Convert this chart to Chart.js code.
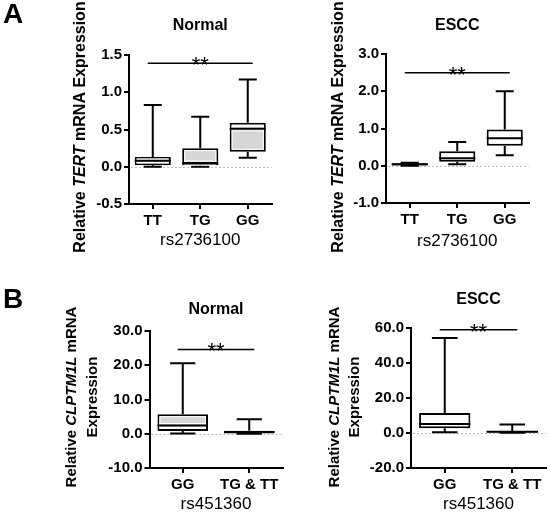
<!DOCTYPE html>
<html>
<head>
<meta charset="utf-8">
<script src="https://cdn.jsdelivr.net/npm/chart.js@4.4.0/dist/chart.umd.min.js"></script>
<style>
    html, body { margin: 0; padding: 0; background: #fff; }
    #wrap { position: relative; width: 550px; height: 514px; overflow: hidden; }
    canvas { position: absolute; }
</style>
</head>
<body>
<div id="wrap">
    <canvas id="tertNormal" width="290" height="257" style="left:0;top:0"></canvas>
    <canvas id="tertEscc" width="275" height="257" style="left:275px;top:0"></canvas>
    <canvas id="clptmNormal" width="290" height="257" style="left:0;top:257px"></canvas>
    <canvas id="clptmEscc" width="275" height="257" style="left:275px;top:257px"></canvas>
</div>
<script>
const FONT = "'Liberation Sans', Arial, sans-serif";

const tertGroups = ["TT", "TG", "GG"];
const clptmGroups = ["GG", "TG & TT"];

// TERT, normal tissue (min, quartiles, max)
const tertNormalMin = [0.00, 0.00, 0.12];
const tertNormalQ1 = [0.02, 0.02, 0.20];
const tertNormalMed = [0.08, 0.05, 0.51];
const tertNormalQ3 = [0.13, 0.25, 0.59];
const tertNormalMax = [0.83, 0.67, 1.17];

// TERT, ESCC
const tertEsccMin = [0.00, 0.04, 0.28];
const tertEsccQ1 = [0.01, 0.11, 0.54];
const tertEsccMed = [0.04, 0.20, 0.74];
const tertEsccQ3 = [0.07, 0.39, 0.97];
const tertEsccMax = [0.08, 0.64, 2.00];

// CLPTM1L, normal tissue
const clptmNormalMin = [0.1, 0.0];
const clptmNormalQ1 = [0.8, 0.1];
const clptmNormalMed = [2.4, 0.5];
const clptmNormalQ3 = [5.7, 0.9];
const clptmNormalMax = [20.6, 4.2];

// CLPTM1L, ESCC
const clptmEsccMin = [0.4, 0.2];
const clptmEsccQ1 = [2.7, 0.3];
const clptmEsccMed = [5.2, 0.7];
const clptmEsccQ3 = [11.4, 1.1];
const clptmEsccMax = [54.3, 4.8];

const tertNormalTicks = [-0.5, 0.0, 0.5, 1.0, 1.5];
const tertEsccTicks = [-1.0, 0.0, 1.0, 2.0, 3.0];
const clptmNormalTicks = [-10, 0, 10, 20, 30];
const clptmEsccTicks = [-20, 0, 20, 40, 60];

// height of the "**" bar in each panel
const sigLevels = [1.39, 2.5, 24.6, 59];

const tertLabel = [[["Relative ", false], ["TERT", true], [" mRNA Expression", false]]];
const clptmLabel = [[["Relative ", false], ["CLPTM1L", true], [" mRNA", false]], [["Expression", false]]];

function drawRotated(ctx, segs, cx, cy, size) {
    ctx.save();
    ctx.translate(cx, cy);
    ctx.rotate(-Math.PI / 2);
    ctx.textBaseline = "middle";
    ctx.textAlign = "left";
    let widths = segs.map(s => {
        ctx.font = (s[1] ? "italic " : "") + "bold " + size + "px " + FONT;
        return ctx.measureText(s[0]).width;
    });
    let x = -widths.reduce((a, b) => a + b, 0) / 2;
    segs.forEach((s, i) => {
        ctx.font = (s[1] ? "italic " : "") + "bold " + size + "px " + FONT;
        ctx.fillStyle = "#000";
        ctx.fillText(s[0], x, 0);
        x += widths[i];
    });
    ctx.restore();
}

function boxPlugin(p) {
    return {
        id: "boxDecor",
        beforeDatasetsDraw(chart) {
            const ctx = chart.ctx, a = chart.chartArea, y = chart.scales.y;
            const y0 = Math.round(y.getPixelForValue(0)) + 0.5;
            ctx.save();
            ctx.strokeStyle = "#bdbdbd";
            ctx.lineWidth = 1;
            ctx.setLineDash([2, 2]);
            ctx.beginPath();
            ctx.moveTo(a.left + 2, y0);
            ctx.lineTo(a.right, y0);
            ctx.stroke();
            ctx.restore();
        },
        afterDatasetsDraw(chart) {
            const ctx = chart.ctx, y = chart.scales.y;
            const bars = chart.getDatasetMeta(0).data;
            ctx.save();
            bars.forEach((bar, i) => {
                const cx = bar.x, w = bar.width;
                const left = cx - w / 2, right = cx + w / 2;
                const top = y.getPixelForValue(p.q3[i]);
                const bot = y.getPixelForValue(p.q1[i]);
                const yMax = y.getPixelForValue(p.max[i]);
                const yMin = y.getPixelForValue(p.min[i]);
                const yMed = y.getPixelForValue(p.med[i]);
                ctx.strokeStyle = "#000";
                ctx.lineWidth = 2;
                ctx.beginPath();
                ctx.moveTo(cx, top); ctx.lineTo(cx, yMax);
                ctx.moveTo(cx - w / 4, yMax); ctx.lineTo(cx + w / 4, yMax);
                ctx.moveTo(cx, bot); ctx.lineTo(cx, yMin);
                ctx.moveTo(cx - w / 4, yMin); ctx.lineTo(cx + w / 4, yMin);
                ctx.stroke();
                if (p.grey && bot - top > 6) {
                    ctx.strokeStyle = "#fff";
                    ctx.lineWidth = 1;
                    ctx.strokeRect(left + 2.5, top + 2.5, w - 5, bot - top - 5);
                    ctx.beginPath();
                    ctx.moveTo(left + 2, yMed - 2); ctx.lineTo(right - 2, yMed - 2);
                    ctx.moveTo(left + 2, yMed + 2); ctx.lineTo(right - 2, yMed + 2);
                    ctx.stroke();
                }
                ctx.strokeStyle = "#000";
                ctx.lineWidth = 2;
                ctx.beginPath();
                ctx.moveTo(left, yMed); ctx.lineTo(right, yMed);
                ctx.stroke();
            });
            // significance bar
            const ys = y.getPixelForValue(p.sig);
            const x1 = bars[0].x - 5, x2 = bars[bars.length - 1].x + 5;
            ctx.lineWidth = 1.5;
            ctx.beginPath();
            ctx.moveTo(x1, ys); ctx.lineTo(x2, ys);
            ctx.stroke();
            ctx.fillStyle = "#000";
            ctx.font = "22px " + FONT;
            ctx.textAlign = "center";
            ctx.textBaseline = "alphabetic";
            ctx.fillText("**", (x1 + x2) / 2, ys + 9);
            ctx.restore();
        },
        afterDraw(chart) {
            const ctx = chart.ctx, a = chart.chartArea;
            const mid = (a.left + a.right) / 2;
            ctx.save();
            ctx.fillStyle = "#000";
            ctx.textAlign = "center";
            ctx.textBaseline = "middle";
            ctx.font = "bold 16px " + FONT;
            ctx.fillText(p.title, mid, p.titleY);
            ctx.font = "17px " + FONT;
            ctx.fillText(p.xTitle, mid, p.xTitleY);
            if (p.letter) {
                ctx.textAlign = "left";
                ctx.font = "bold 28px " + FONT;
                ctx.fillText(p.letter, 3, p.letterY);
            }
            ctx.restore();
            p.yLabel.forEach((line, k) => drawRotated(ctx, line, p.yLabelX[k], p.yLabelY, p.yLabelSize));
        }
    };
}

function makePanel(id, p) {
    const canvas = document.getElementById(id);
    const W = canvas.width, H = canvas.height;
    return new Chart(canvas.getContext("2d"), {
        type: "bar",
        data: {
            labels: p.groups,
            datasets: [{
                data: p.q1.map((v, i) => [v, p.q3[i]]),
                backgroundColor: p.grey ? "#d6d6d6" : "#ffffff",
                borderColor: "#000",
                borderWidth: 2,
                borderSkipped: false,
                barPercentage: 0.76,
                categoryPercentage: 1
            }]
        },
        options: {
            responsive: false,
            animation: false,
            events: [],
            layout: { padding: { top: p.area.top, right: W - p.area.right, left: 0, bottom: 0 } },
            plugins: { legend: { display: false }, tooltip: { enabled: false } },
            scales: {
                x: {
                    afterFit: s => { s.height = H - p.area.bottom; },
                    ticks: { font: { family: FONT, size: 15, weight: "bold" }, color: "#000", padding: 3, maxRotation: 0, autoSkip: false },
                    grid: { drawOnChartArea: false, offset: false, tickLength: 5, color: "#000", lineWidth: 2 },
                    border: { color: "#000", width: 2 }
                },
                y: {
                    min: p.ticks[0],
                    max: p.ticks[p.ticks.length - 1],
                    afterBuildTicks: s => { s.ticks = p.ticks.map(v => ({ value: v })); },
                    afterFit: s => { s.width = p.area.left; },
                    ticks: { font: { family: FONT, size: 15, weight: "bold" }, color: "#000", padding: 2, callback: v => Number(v).toFixed(1) },
                    grid: { drawOnChartArea: false, tickLength: 5, color: "#000", lineWidth: 2 },
                    border: { color: "#000", width: 2 }
                }
            }
        },
        plugins: [boxPlugin(p)]
    });
}

makePanel("tertNormal", {
    groups: tertGroups, min: tertNormalMin, q1: tertNormalQ1, med: tertNormalMed, q3: tertNormalQ3, max: tertNormalMax,
    ticks: tertNormalTicks, sig: sigLevels[0], grey: true,
    area: { left: 129, right: 271.5, top: 55, bottom: 204 },
    title: "Normal", titleY: 26, xTitle: "rs2736100", xTitleY: 240,
    letter: "A", letterY: 15,
    yLabel: tertLabel, yLabelX: [81], yLabelY: 127, yLabelSize: 16
});

makePanel("tertEscc", {
    groups: tertGroups, min: tertEsccMin, q1: tertEsccQ1, med: tertEsccMed, q3: tertEsccQ3, max: tertEsccMax,
    ticks: tertEsccTicks, sig: sigLevels[1], grey: false,
    area: { left: 111, right: 253.5, top: 54, bottom: 203 },
    title: "ESCC", titleY: 26, xTitle: "rs2736100", xTitleY: 241,
    yLabel: tertLabel, yLabelX: [64], yLabelY: 127, yLabelSize: 16
});

makePanel("clptmNormal", {
    groups: clptmGroups, min: clptmNormalMin, q1: clptmNormalQ1, med: clptmNormalMed, q3: clptmNormalQ3, max: clptmNormalMax,
    ticks: clptmNormalTicks, sig: sigLevels[2], grey: true,
    area: { left: 149.5, right: 282.5, top: 74, bottom: 211 },
    title: "Normal", titleY: 53, xTitle: "rs451360", xTitleY: 247,
    letter: "B", letterY: 43,
    yLabel: clptmLabel, yLabelX: [72, 93], yLabelY: 140, yLabelSize: 15
});

makePanel("clptmEscc", {
    groups: clptmGroups, min: clptmEsccMin, q1: clptmEsccQ1, med: clptmEsccMed, q3: clptmEsccQ3, max: clptmEsccMax,
    ticks: clptmEsccTicks, sig: sigLevels[3], grey: false,
    area: { left: 136, right: 271, top: 71, bottom: 211 },
    title: "ESCC", titleY: 43, xTitle: "rs451360", xTitleY: 247,
    yLabel: clptmLabel, yLabelX: [60, 80], yLabelY: 140, yLabelSize: 15
});
</script>
</body>
</html>
